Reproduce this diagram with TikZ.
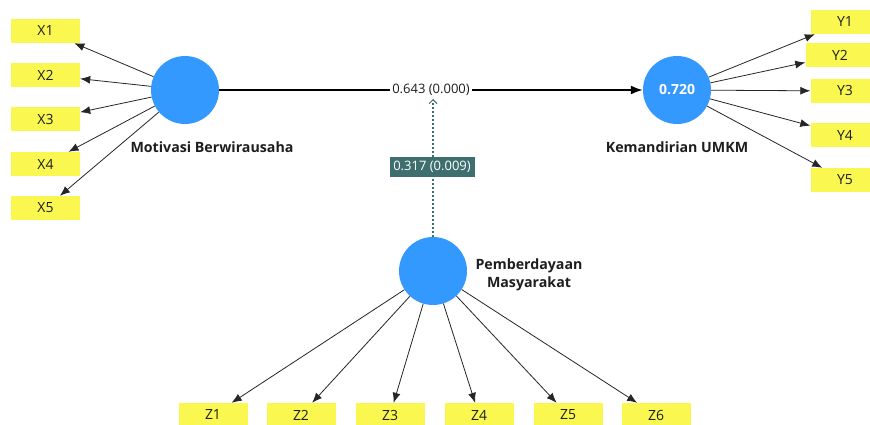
\documentclass[tikz,border=0pt]{standalone}
\usepackage{fontspec}
\setmainfont{Open Sans}[BoldFont={Open Sans Bold}]
\usetikzlibrary{arrows.meta}
\definecolor{boxyellow}{RGB}{250,248,80}
\definecolor{lvblue}{RGB}{51,153,255}
\definecolor{modteal}{RGB}{62,110,110}
\definecolor{txt}{RGB}{30,30,30}
\tikzset{
  ind/.style={fill=boxyellow, draw=none, minimum width=69pt, minimum height=24pt, inner sep=0pt, font=\fontsize{14}{16}\selectfont, text=txt},
  lv/.style={circle, fill=lvblue, draw=none, minimum size=68pt, inner sep=0pt},
  lvlabel/.style={font=\fontsize{14.2}{18}\selectfont\bfseries, text=txt, align=center},
  ld/.style={draw=black!85, line width=0.8pt, -{Latex[length=10pt,width=8pt]}},
  mainpath/.style={draw=black, line width=1.8pt, -{Latex[length=12pt,width=9pt]}},
  modpath/.style={draw=modteal, line width=1.6pt, dash pattern=on 1.6pt off 2.4pt, -{Straight Barb[length=4pt,width=8pt,line width=1pt]}},
}
\begin{document}
\begin{tikzpicture}[x=1pt,y=-1pt]
\useasboundingbox (0,0) rectangle (870,425);
\fill[white] (0,0) rectangle (870,425);
\clip (0,0) rectangle (870,425);
% latent variables
\node[lv] (mot) at (185,90) {};
\node[lv, font=\fontsize{14}{16}\selectfont\bfseries, text=white] (kem) at (677,90) {0.720};
\node[lv] (pem) at (433,271) {};
\node[lvlabel] (motl) at (212,147) {Motivasi Berwirausaha};
\node[lvlabel] (keml) at (677,147) {Kemandirian UMKM};
\node[lvlabel] (peml) at (529,275) {Pemberdayaan\\ Masyarakat};
% indicators X
\node[ind] (x1) at (45.5,31) {X1};
\node[ind] (x2) at (45.5,75) {X2};
\node[ind] (x3) at (45.5,119.5) {X3};
\node[ind] (x4) at (45.5,164) {X4};
\node[ind] (x5) at (45.5,208) {X5};
% indicators Y
\node[ind] (y1) at (845,22) {Y1};
\node[ind] (y2) at (840,55) {Y2};
\node[ind] (y3) at (845,91) {Y3};
\node[ind] (y4) at (845,135) {Y4};
\node[ind] (y5) at (845,180) {Y5};
% indicators Z
\node[ind] (z1) at (213,415) {Z1};
\node[ind] (z2) at (301,415) {Z2};
\node[ind] (z3) at (390,415) {Z3};
\node[ind] (z4) at (479,415) {Z4};
\node[ind] (z5) at (568,415) {Z5};
\node[ind] (z6) at (656,415) {Z6};
% loadings
\foreach \i in {1,...,5} {\draw[ld] (mot) -- (x\i);}
\foreach \i in {1,...,5} {\draw[ld] (kem) -- (y\i);}
\foreach \i in {1,...,6} {\draw[ld] (pem) -- (z\i);}
% structural paths
\coordinate (modend) at (433,99);
\draw[modpath] (pem.north) -- (modend);
\draw[mainpath] (mot) -- (kem) node[pos=0.5, fill=white, inner sep=2pt, font=\fontsize{13}{15}\selectfont, text=txt] (plabel) {0.643 (0.000)};
\node[fill=modteal, text=white, inner sep=0pt, minimum width=85pt, minimum height=19pt, font=\fontsize{13}{15}\selectfont] (mlabel) at (432,167) {0.317 (0.009)};
\end{tikzpicture}
\end{document}
